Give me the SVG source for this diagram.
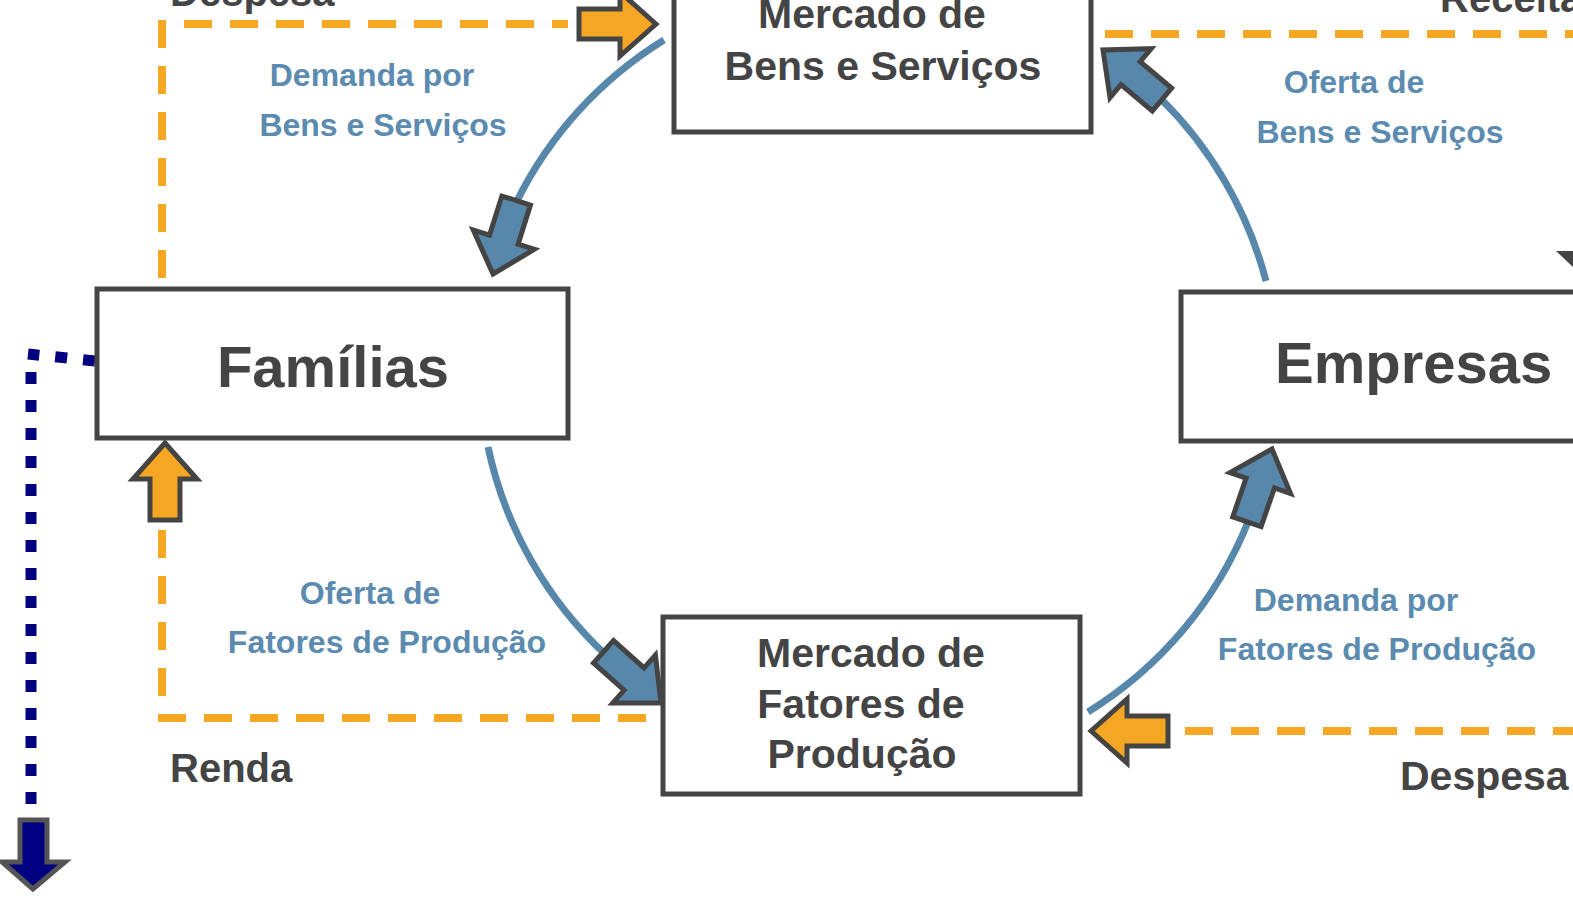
<svg xmlns="http://www.w3.org/2000/svg" width="1573" height="909" viewBox="0 0 1573 909">
<style>
.box{fill:#fff;stroke:#444;stroke-width:5}
.t{font-family:"Liberation Sans",Arial,sans-serif;font-weight:bold;fill:#444}
.b{font-family:"Liberation Sans",Arial,sans-serif;font-weight:bold;fill:#5b8bb0;font-size:32px;text-anchor:middle}
.dash{fill:none;stroke:#f5a623;stroke-width:8;stroke-dasharray:28 18}
.arc{fill:none;stroke:#5787ab;stroke-width:7}
.ba{fill:#5787ab;stroke:#444;stroke-width:5;stroke-linejoin:miter}
.oa{fill:#f5a623;stroke:#444;stroke-width:5;stroke-linejoin:miter}
.na{fill:#000080;stroke:#555;stroke-width:5}
</style>
<defs>
<polygon id="arr" points="0,0 -36,-32 -36,-15 -77,-15 -77,15 -36,15 -36,32"/>
</defs>
<rect width="1573" height="909" fill="#fff"/>
<g id="connectors">
<path class="dash" d="M162,278 V24 H568"/>
<path class="dash" d="M1105,34 H1573"/>
<path class="dash" d="M162,530 V718 H655"/>
<path class="dash" d="M1185,731 H1573"/>
<path d="M95,361 L28,354" fill="none" stroke="#000080" stroke-width="11" stroke-dasharray="12 16"/>
<path d="M31,372 V820" fill="none" stroke="#000080" stroke-width="11" stroke-dasharray="12 16"/>
<path class="arc" d="M664,40 A397,397 0 0 0 517,201"/>
<path class="arc" d="M1266,281 A397,397 0 0 0 1160,98"/>
<path class="arc" d="M488,447 A397,397 0 0 0 607,656"/>
<path class="arc" d="M1088,712 A397,397 0 0 0 1248,522"/>
<use href="#arr" class="ba" transform="translate(493,274) rotate(107.5)"/>
<use href="#arr" class="ba" transform="translate(1103,50) rotate(-140)"/>
<use href="#arr" class="ba" transform="translate(661,703) rotate(41.7)"/>
<use href="#arr" class="ba" transform="translate(1272,449) rotate(-71)"/>
<use href="#arr" class="oa" transform="translate(656,24)"/>
<use href="#arr" class="oa" transform="translate(165,443) rotate(-90)"/>
<use href="#arr" class="oa" transform="translate(1091,731) rotate(180)"/>
<polygon points="1556,251 1573,251 1573,267" fill="#444"/>
<polygon class="na" points="33,889 2,862 20,862 20,820 47,820 47,862 65,862"/>
</g>
<g id="mercado-bens">
<rect class="box" x="674" y="-20" width="417" height="152"/>
<text class="t" x="872" y="28" font-size="41" text-anchor="middle">Mercado de</text>
<text class="t" x="883" y="80" font-size="41" text-anchor="middle">Bens e Serviços</text>
</g>
<g id="familias">
<rect class="box" x="97" y="289" width="471" height="149"/>
<text class="t" x="333" y="387" font-size="58" text-anchor="middle">Famílias</text>
</g>
<g id="empresas">
<rect class="box" x="1181" y="292" width="420" height="149"/>
<text class="t" x="1275" y="383" font-size="58">Empresas</text>
</g>
<g id="mercado-fatores">
<rect class="box" x="663" y="617" width="417" height="177"/>
<text class="t" x="871" y="667" font-size="41" text-anchor="middle">Mercado de</text>
<text class="t" x="861" y="718" font-size="41" text-anchor="middle">Fatores de</text>
<text class="t" x="862" y="768" font-size="41" text-anchor="middle">Produção</text>
</g>
<g id="labels">
<text class="t" x="170" y="6" font-size="40">Despesa</text>
<text class="t" x="1440" y="12" font-size="40">Receita</text>
<text class="t" x="170" y="782" font-size="40">Renda</text>
<text class="t" x="1400" y="790" font-size="41">Despesa</text>
<text class="b" x="372" y="86">Demanda por</text>
<text class="b" x="383" y="136">Bens e Serviços</text>
<text class="b" x="1354" y="93">Oferta de</text>
<text class="b" x="1380" y="143">Bens e Serviços</text>
<text class="b" x="370" y="604">Oferta de</text>
<text class="b" x="387" y="653">Fatores de Produção</text>
<text class="b" x="1356" y="611">Demanda por</text>
<text class="b" x="1377" y="660">Fatores de Produção</text>
</g>
</svg>
